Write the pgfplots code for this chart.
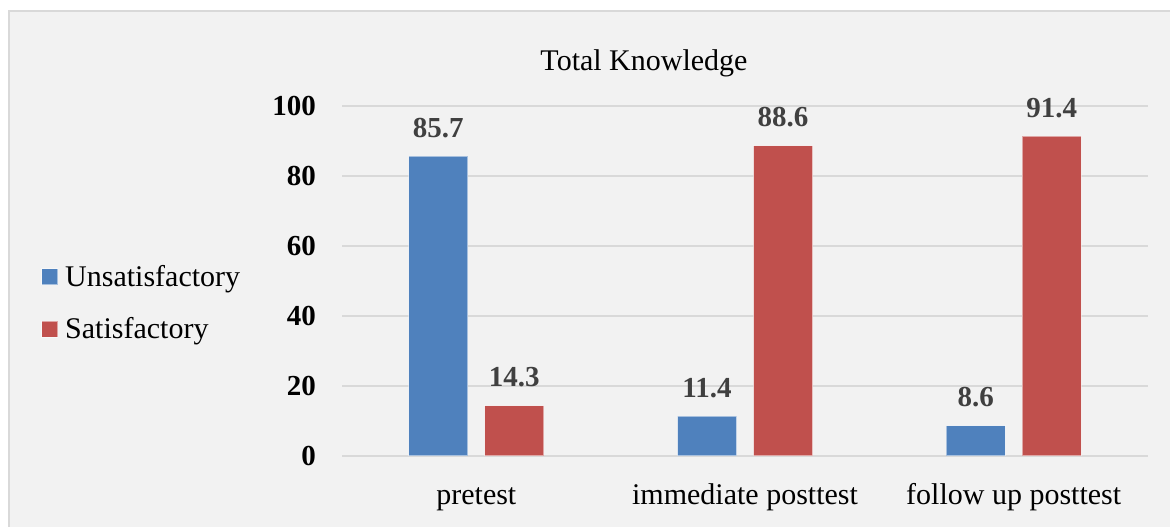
\documentclass[border=0pt]{standalone}
\usepackage{fontspec}
\setmainfont{Liberation Serif}
\usepackage{pgfplots}
\pgfplotsset{compat=1.18}
\definecolor{cblue}{HTML}{4F81BD}
\definecolor{cred}{HTML}{C0504D}
\definecolor{bg}{HTML}{F2F2F2}
\definecolor{gridc}{HTML}{D9D9D9}
\definecolor{lab}{HTML}{404040}
\begin{document}
\begin{tikzpicture}[x=1bp,y=1bp]
\useasboundingbox (0,0) rectangle (1170,527);
\fill[white] (0,0) rectangle (1170,527);
\begin{scope}
\clip (0,0) rectangle (1170,527);
\filldraw[fill=bg, draw=gridc, line width=1.5bp] (9,516) rectangle (1200,-20);
\end{scope}
\node[anchor=base, inner sep=0pt, font=\fontsize{30bp}{36bp}\selectfont] at (644,456) {Total Knowledge};
\begin{axis}[
  at={(342bp,71bp)}, anchor=south west,
  scale only axis, width=806bp, height=350bp,
  xmin=-0.5, xmax=2.5, ymin=0, ymax=100,
  ybar=17bp, bar width=59bp,
  axis line style={draw=none},
  major tick length=0pt,
  tick style={draw=none},
  ytick={0,20,40,60,80,100},
  xtick={0,1,2},
  xticklabels={pretest, immediate posttest, follow up posttest},
  ymajorgrids,
  grid style={draw=gridc, line width=1.3bp},
  /pgf/number format/assume math mode=true,
  yticklabel style={font=\bfseries\fontsize{29bp}{29bp}\selectfont, anchor=east, inner sep=0pt, xshift=-26bp},
  xticklabel style={font=\fontsize{30bp}{30bp}\selectfont, anchor=base, inner sep=0pt, yshift=-49bp},
  nodes near coords,
  nodes near coords style={font=\bfseries\fontsize{29bp}{29bp}\selectfont, text=lab, anchor=base, inner sep=0pt, yshift=19bp},
  legend cell align=left,
  legend style={at={(-0.3734,0.5457)}, anchor=north west, draw=none, fill=none,
    font=\fontsize{30bp}{30bp}\selectfont, row sep=30bp, column sep=7bp, inner sep=0pt,
    nodes={inner sep=0pt}},
  legend image code/.code={\fill[#1] (0bp,-8bp) rectangle (16bp,8bp);},
]
\addplot[fill=cblue, draw=white, draw opacity=0.5, line width=1bp] coordinates {(0,85.7) (1,11.4) (2,8.6)};
\addplot[fill=cred, draw=white, draw opacity=0.5, line width=1bp] coordinates {(0,14.3) (1,88.6) (2,91.4)};
\legend{Unsatisfactory, Satisfactory}
\end{axis}
\end{tikzpicture}
\end{document}
